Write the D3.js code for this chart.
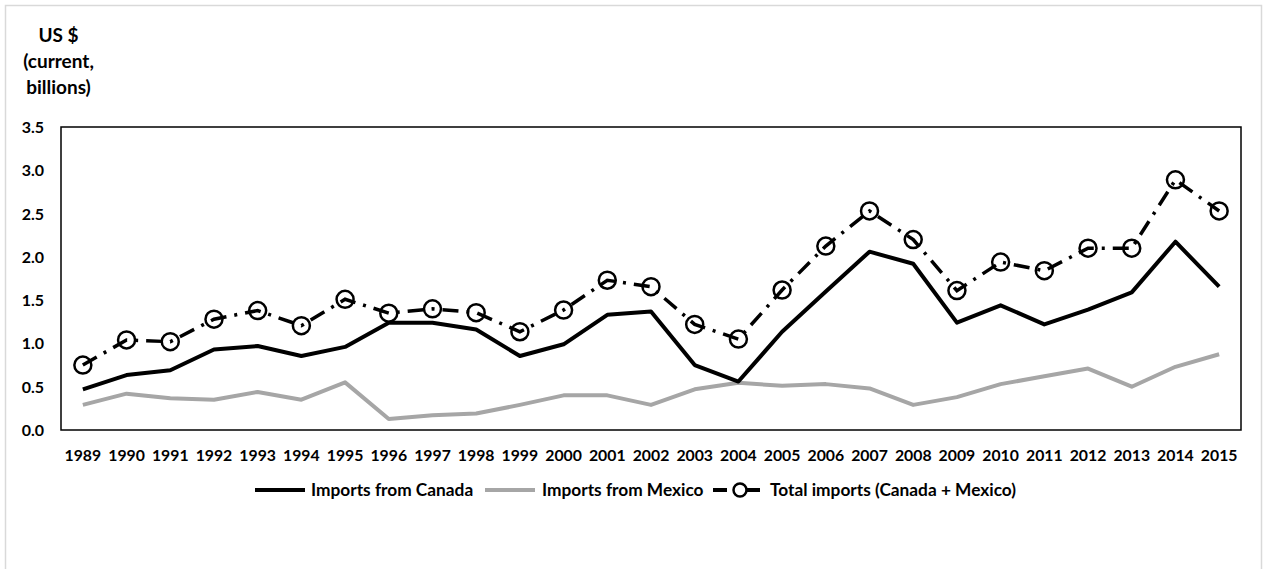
<!DOCTYPE html>
<html><head><meta charset="utf-8">
<script src="https://cdn.jsdelivr.net/npm/d3@7"></script>
<style>
html,body{margin:0;padding:0;background:#fff;}
text{font-family:Lato,"Open Sans",sans-serif;font-weight:bold;fill:#000;}
</style></head>
<body><svg id="c" width="1266" height="569"></svg>
<script>
const years = ["1989","1990","1991","1992","1993","1994","1995","1996","1997","1998","1999","2000","2001","2002","2003","2004","2005","2006","2007","2008","2009","2010","2011","2012","2013","2014","2015"];
const canada = [0.47,0.635,0.69,0.93,0.97,0.855,0.96,1.24,1.24,1.16,0.855,0.99,1.33,1.37,0.75,0.56,1.135,1.6,2.06,1.92,1.24,1.44,1.22,1.39,1.59,2.175,1.655];
const mexico = [0.29,0.42,0.366,0.35,0.44,0.35,0.55,0.127,0.17,0.19,0.29,0.40,0.40,0.29,0.47,0.546,0.51,0.53,0.48,0.29,0.38,0.53,0.62,0.71,0.50,0.73,0.875];
const total = [0.75,1.04,1.02,1.28,1.38,1.205,1.51,1.35,1.40,1.355,1.135,1.386,1.73,1.655,1.22,1.05,1.617,2.125,2.53,2.20,1.61,1.94,1.84,2.10,2.10,2.89,2.53];
const yTicks = [0,0.5,1.0,1.5,2.0,2.5,3.0,3.5];
const titleLines = ["US $","(current,","billions)"];
const seriesNames = ["Imports from Canada","Imports from Mexico","Total imports (Canada + Mexico)"];

const svg = d3.select("#c");
svg.append("rect").attr("x",5.5).attr("y",5.5).attr("width",1256).attr("height",570).attr("fill","#fff").attr("stroke","#d9d9d9").attr("stroke-width",1.5);

const L=61, R=1241, T=127, B=430;
const x = d3.scaleBand().domain(years).range([L,R]);
const y = d3.scaleLinear().domain([0,3.5]).range([B,T]);
const cx = d => x(d)+x.bandwidth()/2;

svg.append("rect").attr("x",L).attr("y",T).attr("width",R-L).attr("height",B-T).attr("fill","none").attr("stroke","#000").attr("stroke-width",1.5);

svg.append("g").selectAll("text").data(yTicks).join("text")
 .attr("x",44).attr("y",d=>y(d)+6).attr("text-anchor","end").attr("font-size",16).text(d=>d.toFixed(1));
svg.append("g").selectAll("text").data(years).join("text")
 .attr("x",d=>cx(d)).attr("y",461).attr("text-anchor","middle").attr("font-size",15.8).text(d=>d);
svg.append("g").selectAll("text").data(titleLines).join("text")
 .attr("x",58.5).attr("y",(d,i)=>42+i*26).attr("text-anchor","middle").attr("font-size",19).text(d=>d);

const line = d3.line().x((d,i)=>cx(years[i])).y(d=>y(d));
svg.append("path").datum(mexico).attr("d",line).attr("fill","none").attr("stroke","#a6a6a6").attr("stroke-width",4).attr("stroke-linejoin","round");
svg.append("path").datum(canada).attr("d",line).attr("fill","none").attr("stroke","#000").attr("stroke-width",4).attr("stroke-linejoin","round");
svg.append("path").datum(total).attr("d",line).attr("fill","none").attr("stroke","#000").attr("stroke-width",3.5).attr("stroke-dasharray","16,8,3,8");
svg.append("g").selectAll("circle").data(total).join("circle")
 .attr("cx",(d,i)=>cx(years[i])).attr("cy",d=>y(d)).attr("r",8.5).attr("fill","none").attr("stroke","#000").attr("stroke-width",2.5);

const ly = 490;
const leg = svg.append("g");
const items = [
 {x:255, tx:311, name:seriesNames[0], color:"#000", dash:null},
 {x:485, tx:542, name:seriesNames[1], color:"#a6a6a6", dash:null},
 {x:713, tx:770, name:seriesNames[2], color:"#000", dash:"14,8,3,8", marker:true}
];
items.forEach(it=>{
  leg.append("line").attr("x1",it.x).attr("x2",it.x+50).attr("y1",ly).attr("y2",ly)
   .attr("stroke",it.color).attr("stroke-width",4).attr("stroke-dasharray",it.dash);
  if(it.marker) leg.append("circle").attr("cx",it.x+27).attr("cy",ly).attr("r",6.5).attr("fill","#fff").attr("stroke","#000").attr("stroke-width",2.5);
  leg.append("text").attr("x",it.tx).attr("y",ly+6).attr("font-size",17.3).text(it.name);
});
</script></body></html>
